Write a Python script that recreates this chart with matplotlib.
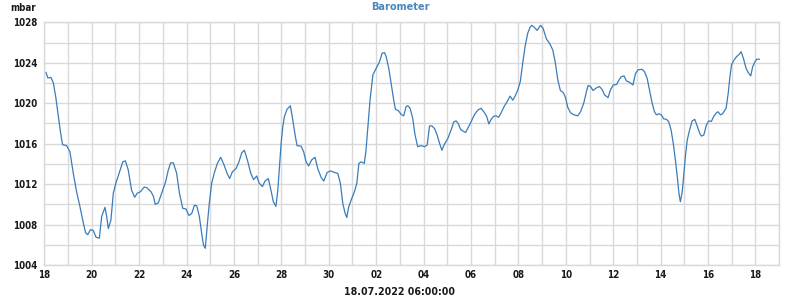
"""
Barometer trace, 18.06. - 18.07.2022 (values read off the reference chart).
"""

import matplotlib
matplotlib.use("Agg")
import matplotlib.pyplot as plt
from matplotlib import font_manager

# --- Data ------------------------------------------------------------------
# time in days since 18.06.2022 00:00, pressure in mbar
days = [
    0.07, 0.15, 0.28, 0.38, 0.48, 0.59, 0.69, 0.77, 0.94, 1.08,
    1.22, 1.36, 1.50, 1.65, 1.74, 1.83, 1.95, 2.07, 2.18, 2.32,
    2.42, 2.56, 2.63, 2.70, 2.81, 2.91, 3.02, 3.16, 3.31, 3.42,
    3.54, 3.68, 3.81, 3.92, 4.06, 4.21, 4.32, 4.50, 4.60, 4.68,
    4.81, 4.95, 5.12, 5.23, 5.33, 5.44, 5.58, 5.70, 5.84, 5.97,
    6.10, 6.22, 6.33, 6.43, 6.54, 6.64, 6.71, 6.79, 6.88, 6.96,
    7.06, 7.17, 7.30, 7.44, 7.58, 7.72, 7.82, 7.93, 8.09, 8.21,
    8.33, 8.44, 8.57, 8.71, 8.83, 8.96, 9.06, 9.20, 9.31, 9.45,
    9.56, 9.66, 9.77, 9.85, 9.92, 9.99, 10.06, 10.13, 10.24, 10.38,
    10.48, 10.58, 10.66, 10.83, 10.94, 11.04, 11.15, 11.28, 11.42, 11.53,
    11.68, 11.79, 11.93, 12.07, 12.24, 12.38, 12.49, 12.59, 12.69, 12.76,
    12.84, 12.94, 13.08, 13.18, 13.27, 13.36, 13.50, 13.57, 13.64, 13.74,
    13.86, 14.00, 14.14, 14.25, 14.35, 14.42, 14.53, 14.63, 14.74, 14.81,
    14.94, 15.05, 15.16, 15.26, 15.33, 15.43, 15.54, 15.64, 15.75, 15.89,
    16.04, 16.15, 16.25, 16.35, 16.46, 16.57, 16.67, 16.77, 16.88, 17.02,
    17.16, 17.27, 17.37, 17.47, 17.56, 17.66, 17.77, 17.86, 18.00, 18.14,
    18.28, 18.42, 18.54, 18.66, 18.75, 18.85, 18.95, 19.06, 19.16, 19.27,
    19.38, 19.52, 19.65, 19.76, 19.86, 19.97, 20.08, 20.18, 20.28, 20.39,
    20.49, 20.56, 20.65, 20.79, 20.93, 21.04, 21.18, 21.32, 21.45, 21.56,
    21.66, 21.77, 21.89, 21.98, 22.08, 22.20, 22.34, 22.50, 22.62, 22.76,
    22.87, 22.94, 23.04, 23.15, 23.28, 23.42, 23.53, 23.64, 23.78, 23.88,
    24.00, 24.14, 24.23, 24.33, 24.45, 24.56, 24.70, 24.83, 24.94, 25.05,
    25.22, 25.32, 25.43, 25.53, 25.64, 25.74, 25.82, 25.92, 26.03, 26.13,
    26.25, 26.34, 26.44, 26.53, 26.63, 26.70, 26.77, 26.83, 26.91, 26.98,
    27.05, 27.12, 27.22, 27.33, 27.44, 27.54, 27.65, 27.72, 27.82, 27.93,
    28.03, 28.14, 28.24, 28.35, 28.42, 28.52, 28.61, 28.76, 28.85, 28.92,
    28.99, 29.09, 29.20, 29.32, 29.39, 29.49, 29.60, 29.70, 29.80, 29.88,
    29.98, 30.05, 30.16,
]
pressure = [
    1023.05, 1022.5, 1022.55, 1022.0, 1020.65, 1018.7, 1017.0, 1015.9, 1015.8, 1015.2,
    1013.1, 1011.25, 1009.8, 1008.1, 1007.2, 1007.0, 1007.5, 1007.4, 1006.75, 1006.65,
    1008.8, 1009.7, 1008.8, 1007.6, 1008.45, 1011.1, 1012.1, 1013.1, 1014.2, 1014.3,
    1013.4, 1011.4, 1010.7, 1011.1, 1011.25, 1011.7, 1011.65, 1011.25, 1010.8, 1010.0,
    1010.15, 1011.1, 1012.25, 1013.4, 1014.1, 1014.1, 1013.1, 1011.1, 1009.6, 1009.55,
    1008.9, 1009.1, 1009.9, 1009.85, 1008.8, 1007.1, 1006.0, 1005.65, 1008.1, 1010.1,
    1012.1, 1013.1, 1014.05, 1014.65, 1013.9, 1013.0, 1012.55, 1013.2, 1013.55, 1014.2,
    1015.1, 1015.35, 1014.35, 1013.05, 1012.45, 1012.8, 1012.1, 1011.75, 1012.3, 1012.55,
    1011.4, 1010.25, 1009.8, 1011.4, 1013.7, 1016.05, 1017.7, 1018.7, 1019.4, 1019.75,
    1018.35, 1016.85, 1015.8, 1015.75, 1015.2, 1014.2, 1013.8, 1014.4, 1014.65, 1013.55,
    1012.65, 1012.3, 1013.15, 1013.3, 1013.15, 1013.05, 1012.05, 1010.1, 1009.1, 1008.7,
    1009.75, 1010.4, 1011.25, 1012.05, 1014.05, 1014.2, 1014.05, 1015.35, 1017.35, 1020.3,
    1022.8, 1023.45, 1024.1, 1024.95, 1025.0, 1024.6, 1023.45, 1021.95, 1020.3, 1019.4,
    1019.25, 1018.9, 1018.75, 1019.65, 1019.75, 1019.5, 1018.5, 1016.85, 1015.7, 1015.8,
    1015.7, 1015.85, 1017.75, 1017.75, 1017.5, 1016.85, 1016.05, 1015.35, 1015.95, 1016.5,
    1017.35, 1018.15, 1018.25, 1017.95, 1017.4, 1017.25, 1017.1, 1017.5, 1018.15, 1018.85,
    1019.3, 1019.5, 1019.15, 1018.7, 1017.95, 1018.4, 1018.7, 1018.75, 1018.6, 1019.05,
    1019.6, 1020.15, 1020.7, 1020.3, 1020.7, 1021.3, 1022.15, 1023.95, 1025.6, 1026.9,
    1027.5, 1027.7, 1027.55, 1027.2, 1027.7, 1027.4, 1026.35, 1025.9, 1025.25, 1023.95,
    1022.3, 1021.25, 1021.05, 1020.6, 1019.6, 1019.05, 1018.85, 1018.75, 1019.15, 1020.05,
    1021.15, 1021.75, 1021.65, 1021.25, 1021.5, 1021.65, 1021.35, 1020.8, 1020.55, 1021.3,
    1021.8, 1021.85, 1022.25, 1022.6, 1022.7, 1022.2, 1022.05, 1021.8, 1022.95, 1023.3,
    1023.35, 1023.1, 1022.45, 1021.3, 1020.0, 1019.15, 1018.85, 1018.95, 1018.85, 1018.45,
    1018.4, 1018.15, 1017.35, 1016.05, 1014.2, 1012.75, 1011.1, 1010.25, 1011.25, 1013.05,
    1014.9, 1016.35, 1017.35, 1018.25, 1018.4, 1017.75, 1017.0, 1016.75, 1016.85, 1017.85,
    1018.25, 1018.2, 1018.7, 1019.05, 1019.15, 1018.85, 1018.95, 1019.5, 1021.0, 1022.6,
    1023.8, 1024.25, 1024.6, 1024.85, 1025.1, 1024.45, 1023.45, 1023.0, 1022.7, 1023.6,
    1024.1, 1024.35, 1024.35,
]

tick_days = list(range(0, 31, 2))
tick_labels = ["18", "20", "22", "24", "26", "28", "30",
               "02", "04", "06", "08", "10", "12", "14", "16", "18"]
y_ticks = [1004, 1008, 1012, 1016, 1020, 1024, 1028]

# --- Style -----------------------------------------------------------------
LINE_C = "#3a7cba"
GRID_C = "#d9d9d9"
TEXT_C = "#1a1a1a"
TITLE_C = "#4a86bb"

# narrow bold face if the condensed DejaVu cut is there, else plain DejaVu
has_cond = any("Condensed" in f.fname and "DejaVuSans" in f.fname
               for f in font_manager.fontManager.ttflist)
if has_cond:
    FONT = dict(family="DejaVu Sans", stretch="condensed", weight="bold")
    FS_TICK, FS_TITLE, FS_DATE = 7.0, 7.8, 7.6
else:
    FONT = dict(family="DejaVu Sans", weight="bold")
    FS_TICK, FS_TITLE, FS_DATE = 6.3, 7.0, 7.0

fig = plt.figure(figsize=(8, 3), dpi=100)
ax = fig.add_axes([0.0554, 0.1167, 0.9186, 0.809])

ax.plot(days, pressure, color=LINE_C, linewidth=0.9)

ax.set_xlim(0, 31)
ax.set_ylim(1004, 1028)
ax.set_xticks(tick_days)
ax.set_xticklabels(tick_labels)
ax.set_xticks(range(0, 32), minor=True)
ax.set_yticks(y_ticks)
ax.set_yticks(range(1004, 1029, 2), minor=True)
ax.grid(which="both", color=GRID_C, linewidth=1.0)
ax.set_axisbelow(True)
ax.tick_params(which="both", length=0, colors=TEXT_C)
ax.tick_params(axis="x", pad=3.5)
ax.tick_params(axis="y", pad=5)
for lab in ax.get_xticklabels() + ax.get_yticklabels():
    lab.set_fontproperties(font_manager.FontProperties(size=FS_TICK, **FONT))
for sp in ax.spines.values():
    sp.set_color(GRID_C)
    sp.set_linewidth(1.0)

fig.text(0.5, 0.975, "Barometer", ha="center", va="center",
         fontsize=FS_TITLE, color=TITLE_C, **FONT)
fig.text(0.013, 0.974, "mbar", ha="left", va="center",
         fontsize=FS_TICK, color=TEXT_C, **FONT)
fig.text(0.5, 0.027, "18.07.2022 06:00:00", ha="center", va="center",
         fontsize=FS_DATE, color=TEXT_C, **FONT)

fig.savefig("out.png", dpi=100)
